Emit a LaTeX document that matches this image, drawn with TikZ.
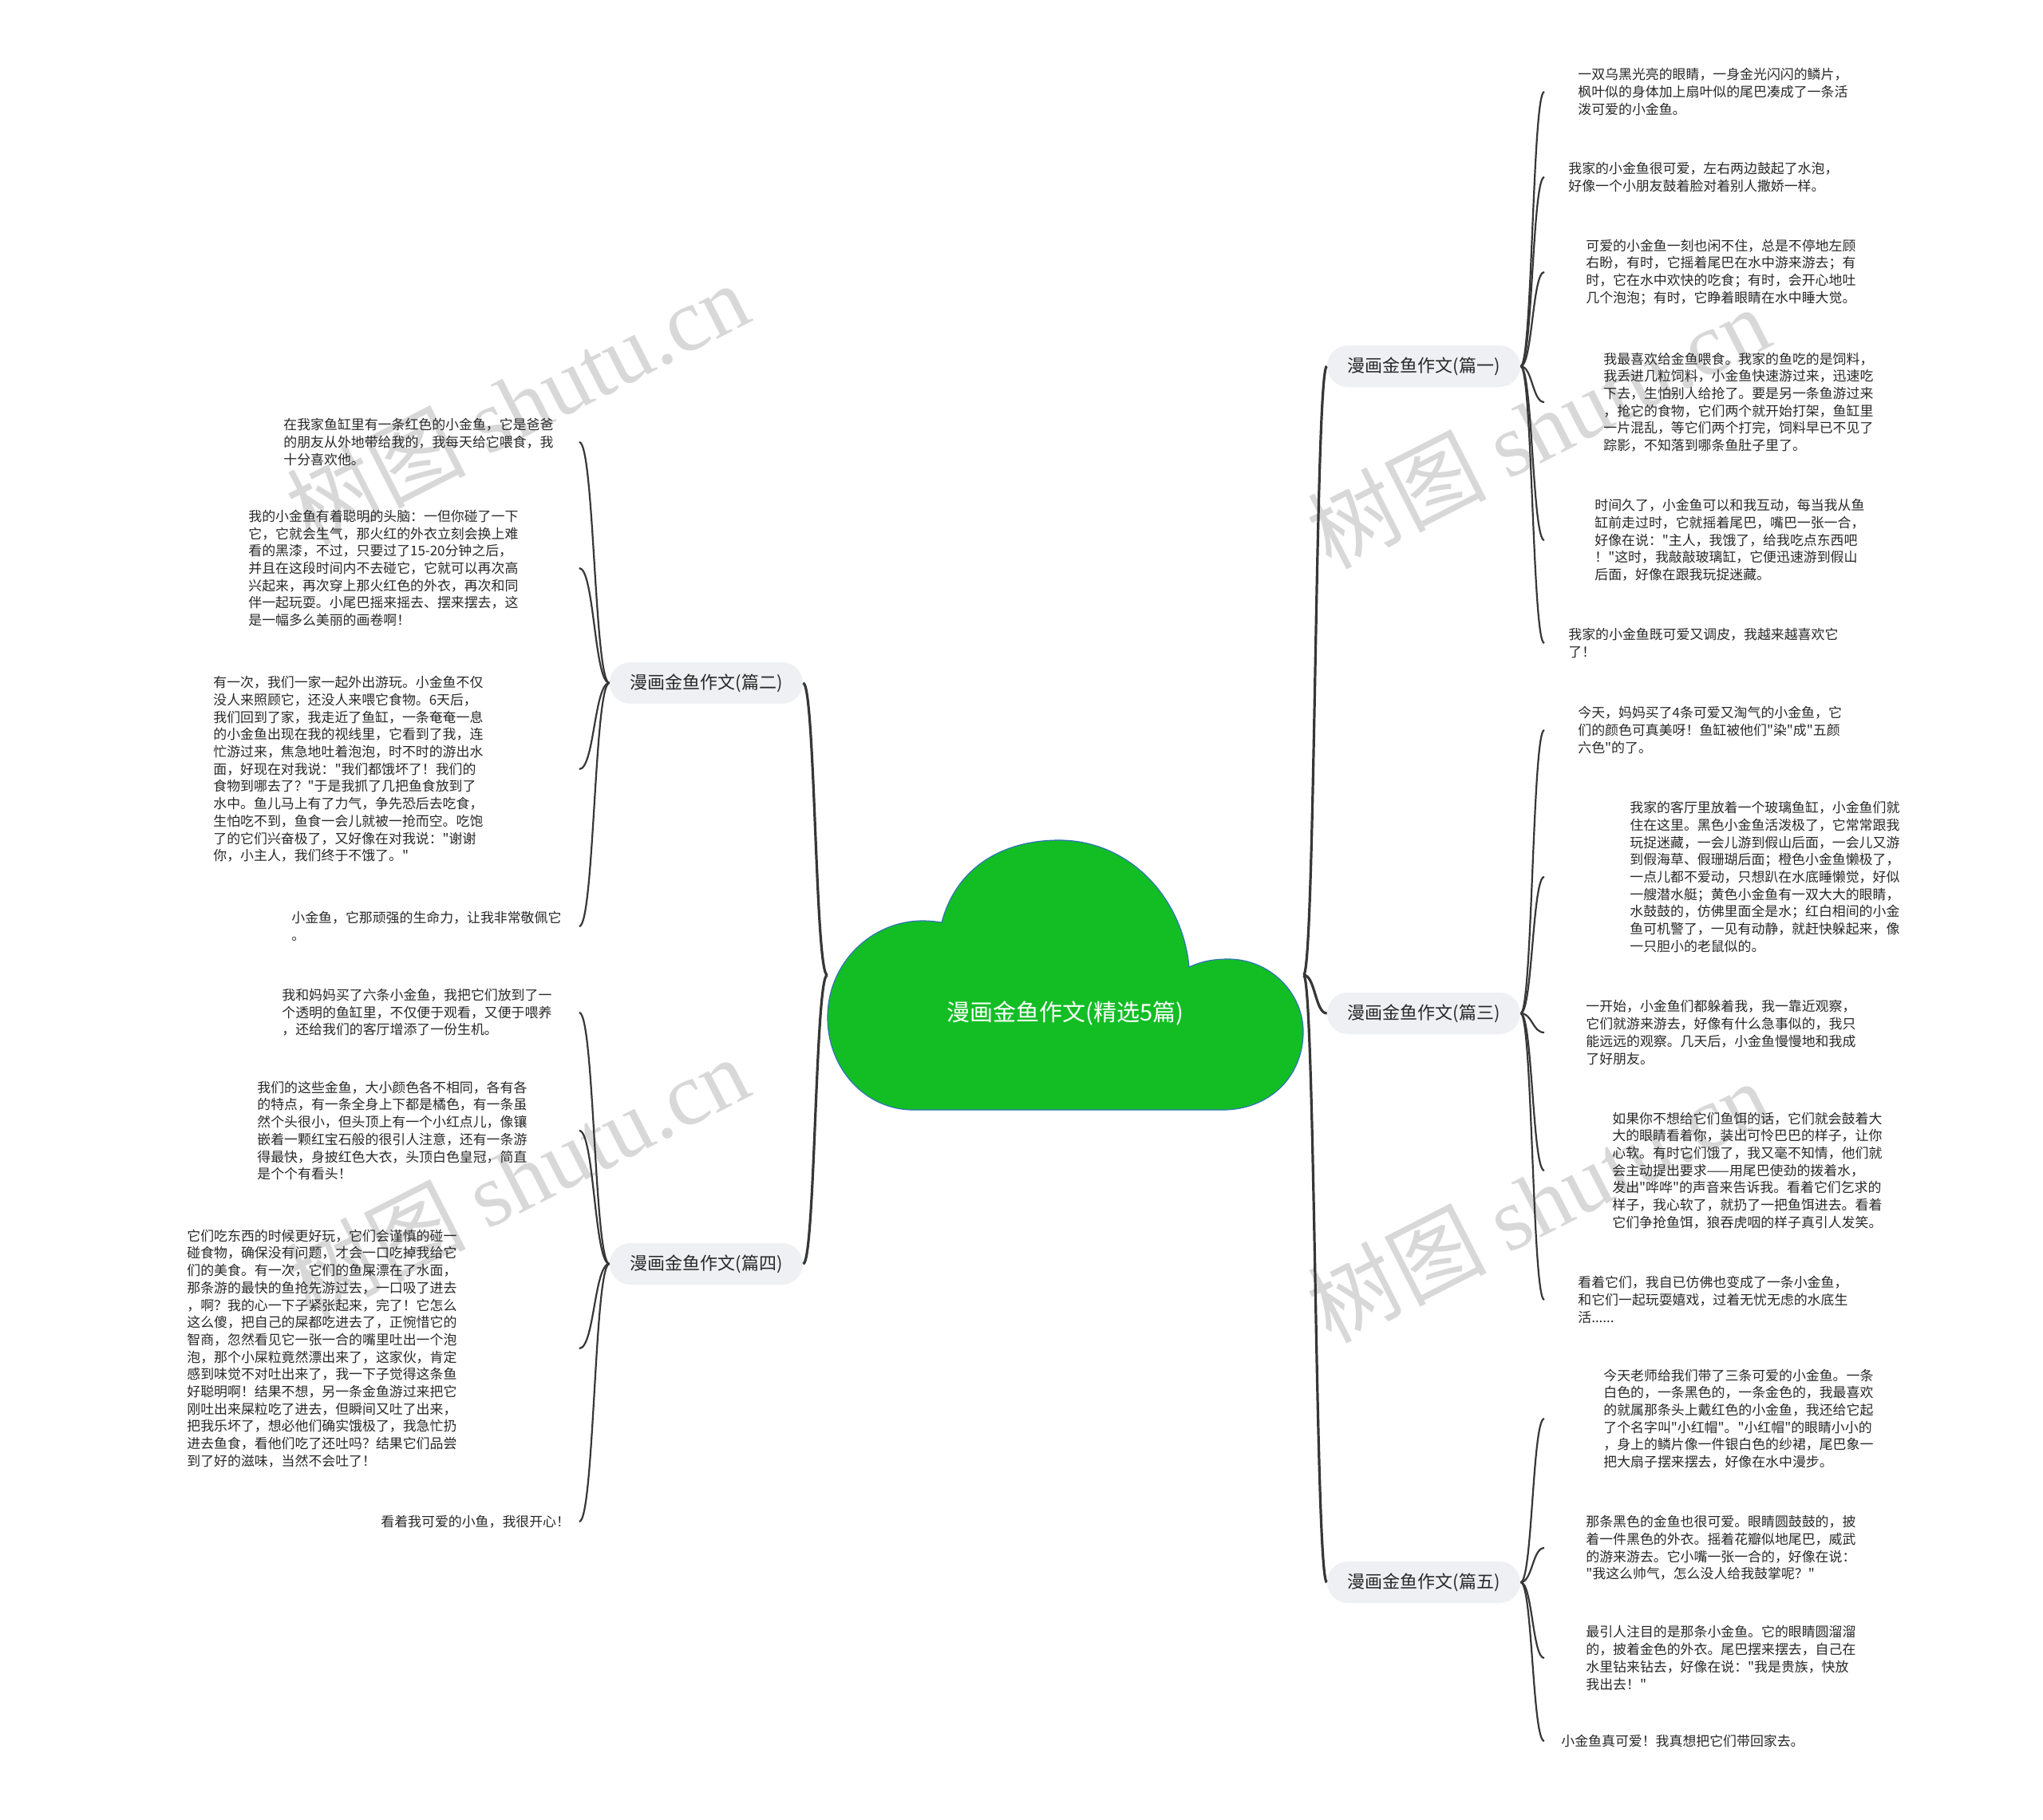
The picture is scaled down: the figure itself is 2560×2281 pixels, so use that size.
\documentclass[tikz,border=0pt]{standalone}
\usepackage{fontspec}
\setmainfont{Noto Sans CJK SC}
\newfontfamily\cjkf{Noto Sans CJK SC}
\newfontfamily\wmserif{Liberation Serif}
\usetikzlibrary{calc}
\definecolor{cloudgreen}{RGB}{19,190,37}
\definecolor{cloudedge}{RGB}{46,117,182}
\definecolor{pillgray}{RGB}{238,240,243}
\definecolor{txtc}{RGB}{40,40,40}
\definecolor{linec}{RGB}{55,55,55}
\definecolor{wmc}{RGB}{216,216,216}
\newcommand\mmlink[3]{\draw[#1] let \p1=(#2), \p2=(#3) in (\p1) .. controls ({(\x1+\x2)/2},\y1) and ({(\x1+\x2)/2},\y2) .. (\p2);}
\begin{document}
\begin{tikzpicture}[x=0.5pt,y=-0.5pt,
  leaf/.style={font=\cjkf\fontsize{8.45}{10.85}\selectfont, text=txtc, inner ysep=0pt, align=left, anchor=west},
  leafL/.style={leaf, inner xsep=0pt},
  branch/.style={rounded corners=13pt, fill=pillgray, minimum width=121pt, minimum height=26pt, inner sep=0pt, font=\cjkf\fontsize{11}{12}\selectfont, text=txtc},
  rootlink/.style={draw=linec, line width=1.6pt},
  leaflink/.style={draw=linec, line width=1.1pt},
  wm/.style={text=wmc, font=\fontsize{56}{60}\selectfont, rotate=27, inner sep=0pt}]
\useasboundingbox (0,0) rectangle (2560,2281);
\fill[white] (0,0) rectangle (2560,2281);

% watermarks
\node[wm] (wm1) at (648,505) {{\cjkf 树图} {\wmserif shutu.cn}};
\node[wm] (wm2) at (1927,535) {{\cjkf 树图} {\wmserif shutu.cn}};
\node[wm] (wm3) at (648,1475) {{\cjkf 树图} {\wmserif shutu.cn}};
\node[wm] (wm4) at (1927,1505) {{\cjkf 树图} {\wmserif shutu.cn}};

% root bounding node
\node[minimum width=298pt, minimum height=169pt, inner sep=0pt] (root) at (1335,1222) {};

% branches
\node[branch] (p1) at (1784,459) {漫画金鱼作文(篇一)};
\node[branch] (p2) at (885,856) {漫画金鱼作文(篇二)};
\node[branch] (p3) at (1784,1270) {漫画金鱼作文(篇三)};
\node[branch] (p4) at (885,1584) {漫画金鱼作文(篇四)};
\node[branch] (p5) at (1784,1983) {漫画金鱼作文(篇五)};

% right leaves
\node[leaf, inner xsep=21pt] (l11) at (1935,115) {一双乌黑光亮的眼睛，一身金光闪闪的鳞片，\\枫叶似的身体加上扇叶似的尾巴凑成了一条活\\泼可爱的小金鱼。};
\node[leaf, inner xsep=15pt] (l12) at (1935,222) {我家的小金鱼很可爱，左右两边鼓起了水泡，\\好像一个小朋友鼓着脸对着别人撒娇一样。};
\node[leaf, inner xsep=26pt] (l13) at (1935,341) {可爱的小金鱼一刻也闲不住，总是不停地左顾\\右盼，有时，它摇着尾巴在水中游来游去；有\\时，它在水中欢快的吃食；有时，会开心地吐\\几个泡泡；有时，它睁着眼睛在水中睡大觉。};
\node[leaf, inner xsep=37pt] (l14) at (1935,504) {我最喜欢给金鱼喂食。我家的鱼吃的是饲料，\\我丢进几粒饲料，小金鱼快速游过来，迅速吃\\下去，生怕别人给抢了。要是另一条鱼游过来\\，抢它的食物，它们两个就开始打架，鱼缸里\\一片混乱，等它们两个打完，饲料早已不见了\\踪影，不知落到哪条鱼肚子里了。};
\node[leaf, inner xsep=31.5pt] (l15) at (1935,677) {时间久了，小金鱼可以和我互动，每当我从鱼\\缸前走过时，它就摇着尾巴，嘴巴一张一合，\\好像在说："主人，我饿了，给我吃点东西吧\\！"这时，我敲敲玻璃缸，它便迅速游到假山\\后面，好像在跟我玩捉迷藏。};
\node[leaf, inner xsep=15pt] (l16) at (1935,806) {我家的小金鱼既可爱又调皮，我越来越喜欢它\\了！};
\node[leaf, inner xsep=21pt] (l31) at (1935,915) {今天，妈妈买了4条可爱又淘气的小金鱼，它\\们的颜色可真美呀！鱼缸被他们"染"成"五颜\\六色"的了。};
\node[leaf, inner xsep=53.5pt] (l32) at (1935,1099) {我家的客厅里放着一个玻璃鱼缸，小金鱼们就\\住在这里。黑色小金鱼活泼极了，它常常跟我\\玩捉迷藏，一会儿游到假山后面，一会儿又游\\到假海草、假珊瑚后面；橙色小金鱼懒极了，\\一点儿都不爱动，只想趴在水底睡懒觉，好似\\一艘潜水艇；黄色小金鱼有一双大大的眼睛，\\水鼓鼓的，仿佛里面全是水；红白相间的小金\\鱼可机警了，一见有动静，就赶快躲起来，像\\一只胆小的老鼠似的。};
\node[leaf, inner xsep=26pt] (l33) at (1935,1294) {一开始，小金鱼们都躲着我，我一靠近观察，\\它们就游来游去，好像有什么急事似的，我只\\能远远的观察。几天后，小金鱼慢慢地和我成\\了好朋友。};
\node[leaf, inner xsep=42.5pt] (l34) at (1935,1467) {如果你不想给它们鱼饵的话，它们就会鼓着大\\大的眼睛看着你，装出可怜巴巴的样子，让你\\心软。有时它们饿了，我又毫不知情，他们就\\会主动提出要求——用尾巴使劲的拨着水，\\发出"哗哗"的声音来告诉我。看着它们乞求的\\样子，我心软了，就扔了一把鱼饵进去。看着\\它们争抢鱼饵，狼吞虎咽的样子真引人发笑。};
\node[leaf, inner xsep=21pt] (l35) at (1935,1629) {看着它们，我自已仿佛也变成了一条小金鱼，\\和它们一起玩耍嬉戏，过着无忧无虑的水底生\\活......};
\node[leaf, inner xsep=37pt] (l51) at (1935,1778) {今天老师给我们带了三条可爱的小金鱼。一条\\白色的，一条黑色的，一条金色的，我最喜欢\\的就属那条头上戴红色的小金鱼，我还给它起\\了个名字叫"小红帽"。"小红帽"的眼睛小小的\\，身上的鳞片像一件银白色的纱裙，尾巴象一\\把大扇子摆来摆去，好像在水中漫步。};
\node[leaf, inner xsep=26pt] (l52) at (1935,1940) {那条黑色的金鱼也很可爱。眼睛圆鼓鼓的，披\\着一件黑色的外衣。摇着花瓣似地尾巴，威武\\的游来游去。它小嘴一张一合的，好像在说：\\"我这么帅气，怎么没人给我鼓掌呢？"};
\node[leaf, inner xsep=26pt] (l53) at (1935,2078) {最引人注目的是那条小金鱼。它的眼睛圆溜溜\\的，披着金色的外衣。尾巴摆来摆去，自己在\\水里钻来钻去，好像在说："我是贵族，快放\\我出去！"};
\node[leaf, inner xsep=10.5pt] (l54) at (1935,2182) {小金鱼真可爱！我真想把它们带回家去。};

% left leaves
\node[leafL, text width=185pt] (l21) at (355,554) {在我家鱼缸里有一条红色的小金鱼，它是爸爸\\的朋友从外地带给我的，我每天给它喂食，我\\十分喜欢他。};
\node[leafL, text width=207pt] (l22) at (311,712) {我的小金鱼有着聪明的头脑：一但你碰了一下\\它，它就会生气，那火红的外衣立刻会换上难\\看的黑漆，不过，只要过了15-20分钟之后，\\并且在这段时间内不去碰它，它就可以再次高\\兴起来，再次穿上那火红色的外衣，再次和同\\伴一起玩耍。小尾巴摇来摇去、摆来摆去，这\\是一幅多么美丽的画卷啊！};
\node[leafL, text width=229pt] (l23) at (267,964) {有一次，我们一家一起外出游玩。小金鱼不仅\\没人来照顾它，还没人来喂它食物。6天后，\\我们回到了家，我走近了鱼缸，一条奄奄一息\\的小金鱼出现在我的视线里，它看到了我，连\\忙游过来，焦急地吐着泡泡，时不时的游出水\\面，好现在对我说："我们都饿坏了！我们的\\食物到哪去了？"于是我抓了几把鱼食放到了\\水中。鱼儿马上有了力气，争先恐后去吃食，\\生怕吃不到，鱼食一会儿就被一抢而空。吃饱\\了的它们兴奋极了，又好像在对我说："谢谢\\你，小主人，我们终于不饿了。"};
\node[leafL, text width=180pt] (l24) at (365,1161) {小金鱼，它那顽强的生命力，让我非常敬佩它\\。};
\node[leafL, text width=186pt] (l41) at (353,1269) {我和妈妈买了六条小金鱼，我把它们放到了一\\个透明的鱼缸里，不仅便于观看，又便于喂养\\，还给我们的客厅增添了一份生机。};
\node[leafL, text width=201.5pt] (l42) at (322,1417) {我们的这些金鱼，大小颜色各不相同，各有各\\的特点，有一条全身上下都是橘色，有一条虽\\然个头很小，但头顶上有一个小红点儿，像镶\\嵌着一颗红宝石般的很引人注意，还有一条游\\得最快，身披红色大衣，头顶白色皇冠，简直\\是个个有看头！};
\node[leafL, text width=245.5pt] (l43) at (234,1690) {它们吃东西的时候更好玩，它们会谨慎的碰一\\碰食物，确保没有问题，才会一口吃掉我给它\\们的美食。有一次，它们的鱼屎漂在了水面，\\那条游的最快的鱼抢先游过去，一口吸了进去\\，啊？我的心一下子紧张起来，完了！它怎么\\这么傻，把自己的屎都吃进去了，正惋惜它的\\智商，忽然看见它一张一合的嘴里吐出一个泡\\泡，那个小屎粒竟然漂出来了，这家伙，肯定\\感到味觉不对吐出来了，我一下子觉得这条鱼\\好聪明啊！结果不想，另一条金鱼游过来把它\\刚吐出来屎粒吃了进去，但瞬间又吐了出来，\\把我乐坏了，想必他们确实饿极了，我急忙扔\\进去鱼食，看他们吃了还吐吗？结果它们品尝\\到了好的滋味，当然不会吐了！};
\node[leafL, text width=124pt] (l44) at (477,1907) {看着我可爱的小鱼，我很开心！};

% connectors root -> branches
\mmlink{rootlink}{root.east}{p1.west}
\mmlink{rootlink}{root.east}{p3.west}
\mmlink{rootlink}{root.east}{p5.west}
\mmlink{rootlink}{root.west}{p2.east}
\mmlink{rootlink}{root.west}{p4.east}

% connectors branches -> leaves
\foreach \l in {l11,l12,l13,l14,l15,l16} {\mmlink{leaflink}{p1.east}{\l.west}}
\foreach \l in {l31,l32,l33,l34,l35} {\mmlink{leaflink}{p3.east}{\l.west}}
\foreach \l in {l51,l52,l53,l54} {\mmlink{leaflink}{p5.east}{\l.west}}
\foreach \l in {l21,l22,l23,l24} {\mmlink{leaflink}{p2.west}{\l.east}}
\foreach \l in {l41,l42,l43,l44} {\mmlink{leaflink}{p4.west}{\l.east}}

% cloud
\filldraw[fill=cloudgreen, draw=cloudedge, line width=0.6pt]
  (1180,1156)
  .. controls (1198,1088) and (1255,1053) .. (1327,1053)
  .. controls (1415,1053) and (1482,1125) .. (1490,1212)
  .. controls (1505,1205) and (1520,1202) .. (1539,1202)
  .. controls (1592,1202) and (1633,1245) .. (1633,1293)
  .. controls (1633,1350) and (1590,1391) .. (1532,1391)
  -- (1144,1391)
  .. controls (1085,1391) and (1037,1340) .. (1037,1275)
  .. controls (1037,1207) and (1092,1154) .. (1156,1154)
  .. controls (1165,1154) and (1173,1155) .. (1180,1156)
  -- cycle;
\node[font=\cjkf\fontsize{14.5}{16}\selectfont, text=white, inner sep=0pt] (rootlabel) at (1335,1270) {漫画金鱼作文(精选5篇)};
\end{tikzpicture}
\end{document}
